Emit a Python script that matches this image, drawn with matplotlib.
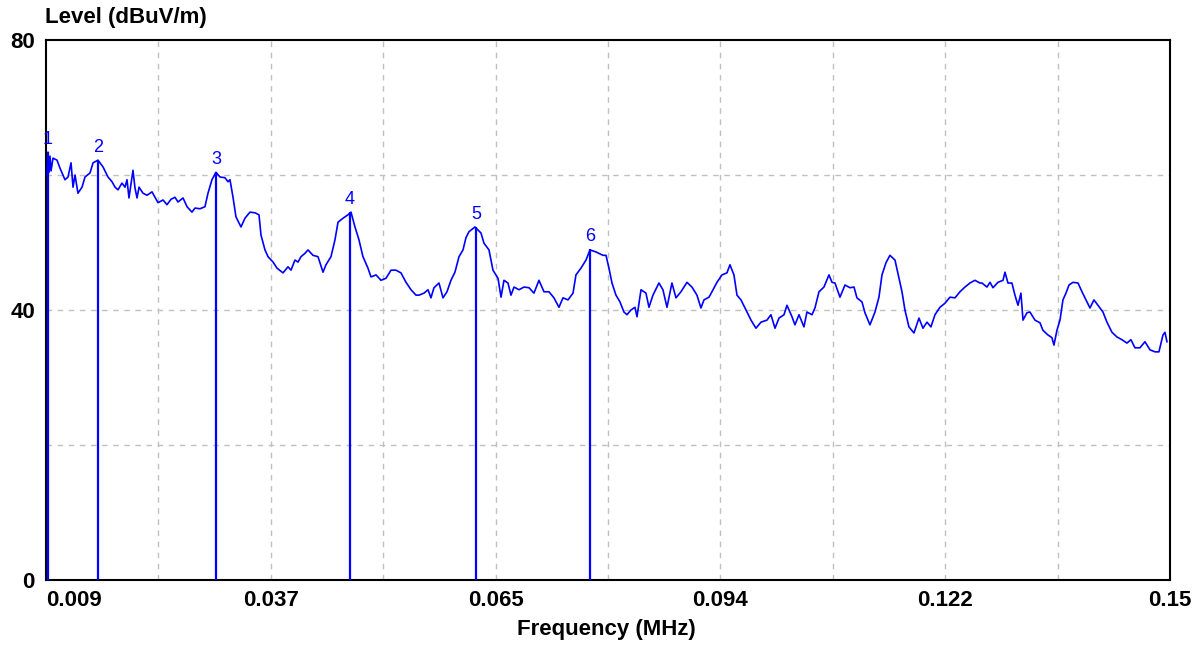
import numpy as np
import matplotlib
matplotlib.use("Agg")
import matplotlib.pyplot as plt

# spectrum trace, frequency in MHz, level in dBuV/m
freq = [0.00913, 0.00925, 0.00938, 0.00950, 0.00963, 0.00988, 0.01038, 0.01076, 0.01138, 0.01176,
        0.01214, 0.01239, 0.01264, 0.01301, 0.01352, 0.01389, 0.01452, 0.01490, 0.01552, 0.01615,
        0.01678, 0.01728, 0.01766, 0.01803, 0.01853, 0.01891, 0.01916, 0.01941, 0.01991, 0.02016,
        0.02042, 0.02067, 0.02117, 0.02167, 0.02230, 0.02267, 0.02305, 0.02368, 0.02418, 0.02468,
        0.02518, 0.02556, 0.02619, 0.02669, 0.02731, 0.02769, 0.02832, 0.02894, 0.02932, 0.02982,
        0.03032, 0.03083, 0.03145, 0.03183, 0.03208, 0.03246, 0.03283, 0.03346, 0.03396, 0.03459,
        0.03522, 0.03572, 0.03597, 0.03647, 0.03685, 0.03748, 0.03798, 0.03873, 0.03936, 0.03973,
        0.04023, 0.04061, 0.04099, 0.04149, 0.04187, 0.04249, 0.04312, 0.04375, 0.04412, 0.04475,
        0.04525, 0.04563, 0.04626, 0.04688, 0.04726, 0.04776, 0.04826, 0.04876, 0.04939, 0.04977,
        0.05040, 0.05102, 0.05165, 0.05228, 0.05290, 0.05353, 0.05416, 0.05479, 0.05541, 0.05579,
        0.05642, 0.05692, 0.05729, 0.05767, 0.05830, 0.05880, 0.05930, 0.05980, 0.06030, 0.06081,
        0.06131, 0.06168, 0.06206, 0.06281, 0.06357, 0.06394, 0.06457, 0.06507, 0.06570, 0.06608,
        0.06645, 0.06695, 0.06733, 0.06771, 0.06833, 0.06896, 0.06959, 0.07021, 0.07084, 0.07147,
        0.07210, 0.07272, 0.07335, 0.07385, 0.07448, 0.07511, 0.07548, 0.07611, 0.07674, 0.07724,
        0.07799, 0.07887, 0.07925, 0.07962, 0.08000, 0.08050, 0.08100, 0.08150, 0.08188, 0.08238,
        0.08288, 0.08314, 0.08364, 0.08426, 0.08464, 0.08514, 0.08589, 0.08639, 0.08690, 0.08752,
        0.08803, 0.08865, 0.08941, 0.09003, 0.09066, 0.09116, 0.09154, 0.09217, 0.09254, 0.09317,
        0.09380, 0.09442, 0.09480, 0.09530, 0.09568, 0.09618, 0.09681, 0.09744, 0.09806, 0.09869,
        0.09944, 0.09994, 0.10045, 0.10095, 0.10158, 0.10195, 0.10258, 0.10295, 0.10346, 0.10408,
        0.10446, 0.10509, 0.10546, 0.10597, 0.10659, 0.10722, 0.10760, 0.10797, 0.10860, 0.10923,
        0.10985, 0.11036, 0.11073, 0.11136, 0.11173, 0.11236, 0.11299, 0.11349, 0.11387, 0.11437,
        0.11487, 0.11550, 0.11600, 0.11638, 0.11675, 0.11725, 0.11788, 0.11851, 0.11901, 0.11951,
        0.12001, 0.12052, 0.12114, 0.12177, 0.12240, 0.12303, 0.12365, 0.12428, 0.12491, 0.12553,
        0.12616, 0.12641, 0.12704, 0.12742, 0.12779, 0.12842, 0.12905, 0.12930, 0.12967, 0.13017,
        0.13055, 0.13093, 0.13130, 0.13156, 0.13206, 0.13243, 0.13306, 0.13369, 0.13406, 0.13469,
        0.13519, 0.13544, 0.13582, 0.13620, 0.13657, 0.13695, 0.13733, 0.13783, 0.13846, 0.13896,
        0.13946, 0.13996, 0.14046, 0.14096, 0.14159, 0.14209, 0.14272, 0.14335, 0.14397, 0.14460,
        0.14510, 0.14560, 0.14623, 0.14686, 0.14749, 0.14811, 0.14861, 0.14912, 0.14937, 0.14962]
level = [60.0, 63.4, 60.4, 62.8, 60.6, 62.5, 62.2, 61.0, 59.3, 59.7,
         61.8, 58.2, 60.0, 57.3, 58.2, 59.7, 60.3, 61.8, 62.2, 61.2,
         59.7, 59.0, 58.2, 57.8, 58.8, 58.2, 59.3, 56.6, 60.7, 58.1,
         56.6, 58.2, 57.3, 57.0, 57.5, 56.7, 55.9, 56.3, 55.6, 56.4,
         56.7, 56.0, 56.6, 55.3, 54.5, 55.1, 55.0, 55.3, 57.3, 59.3,
         60.4, 59.7, 59.6, 59.0, 59.3, 56.7, 53.8, 52.3, 53.6, 54.5,
         54.4, 54.1, 51.1, 48.9, 47.9, 47.1, 46.2, 45.5, 46.4, 45.9,
         47.4, 47.1, 47.9, 48.4, 48.9, 48.1, 47.9, 45.6, 46.7, 47.9,
         50.4, 53.0, 53.6, 54.1, 54.5, 52.3, 50.4, 47.9, 46.2, 44.9,
         45.2, 44.4, 44.7, 45.9, 45.9, 45.5, 44.1, 43.0, 42.2, 42.2,
         42.5, 43.0, 41.8, 43.3, 44.0, 41.8, 42.7, 44.4, 45.6, 47.9,
         48.9, 50.7, 51.6, 52.3, 51.4, 49.9, 48.9, 45.9, 44.7, 41.9,
         44.4, 44.0, 42.2, 43.4, 43.0, 43.4, 43.3, 42.5, 44.4, 42.7,
         42.7, 41.8, 40.4, 41.8, 41.5, 42.5, 45.2, 46.2, 47.4, 48.9,
         48.6, 48.1, 48.1, 46.2, 44.0, 42.2, 41.2, 39.7, 39.3, 40.0,
         40.4, 39.0, 43.0, 42.5, 40.4, 42.2, 44.0, 43.0, 40.4, 44.0,
         41.8, 42.7, 44.1, 43.4, 42.2, 40.3, 41.5, 41.9, 42.7, 44.1,
         45.2, 45.5, 46.7, 45.2, 42.2, 41.5, 40.0, 38.5, 37.3, 38.2,
         38.5, 39.3, 37.3, 38.8, 39.3, 40.7, 39.0, 37.8, 39.3, 37.5,
         39.7, 39.3, 40.3, 42.7, 43.4, 45.2, 44.1, 44.0, 41.9, 43.7,
         43.3, 43.4, 41.8, 41.2, 39.6, 37.8, 39.7, 41.9, 45.2, 47.0,
         48.1, 47.4, 44.7, 42.7, 40.0, 37.5, 36.6, 38.8, 37.3, 38.2,
         37.5, 39.3, 40.4, 41.0, 41.9, 41.8, 42.7, 43.4, 44.0, 44.4,
         44.0, 44.0, 43.4, 44.1, 43.3, 44.1, 44.4, 45.6, 44.0, 44.0,
         42.2, 40.7, 42.5, 38.5, 39.6, 39.7, 38.5, 38.1, 37.0, 36.3,
         35.9, 34.8, 37.0, 38.5, 41.5, 42.5, 43.7, 44.1, 44.0, 42.7,
         41.5, 40.3, 41.5, 40.7, 39.7, 38.2, 36.7, 36.0, 35.6, 35.1,
         35.6, 34.4, 34.4, 35.3, 34.1, 33.8, 33.8, 36.3, 36.7, 35.3]

# peak markers
mark_freq = [0.00925, 0.01552, 0.03032, 0.04713, 0.06293, 0.07722]
mark_level = [63.4, 62.2, 60.4, 54.5, 52.3, 49.0]
mark_names = ["1", "2", "3", "4", "5", "6"]

xticks = np.linspace(0.009, 0.15, 6)
xtick_labels = ["0.009", "0.037", "0.065", "0.094", "0.122", "0.15"]
yticks = [0, 40, 80]

blue = "#0000ff"
font = "Liberation Sans"

fig = plt.figure(figsize=(11.96, 6.48), dpi=100)
ax = fig.add_axes([46/1196, 68/648, 1124/1196, 540/648])

ax.plot(freq, level, color=blue, lw=1.2, zorder=3)
ax.vlines(mark_freq, 0, mark_level, color=blue, lw=1.6, zorder=3)
for f, l, n in zip(mark_freq, mark_level, mark_names):
    ax.annotate(n, (f, l), xytext=(0, 3), textcoords="offset points",
                ha="center", va="bottom", color=blue, fontsize=13, family=font)

ax.set_xlim(0.009, 0.15)
ax.set_ylim(0, 80)

# grid at half steps
for gx in np.linspace(0.009, 0.15, 11)[1:-1]:
    ax.axvline(gx, color="#c0c0c0", lw=1, ls=(0, (4, 4)), zorder=1)
for gy in [20, 40, 60]:
    ax.axhline(gy, color="#c0c0c0", lw=1, ls=(0, (4, 4)), zorder=1)

ax.set_xticks(xticks)
ax.set_xticklabels(xtick_labels, fontsize=16, fontweight="bold", family=font)
ax.get_xticklabels()[0].set_ha("left")
ax.set_yticks(yticks)
ax.set_yticklabels([str(v) for v in yticks], fontsize=16, fontweight="bold", family=font)
ax.tick_params(axis="both", length=0)
ax.tick_params(axis="x", pad=7)
ax.tick_params(axis="y", pad=8)

for s in ax.spines.values():
    s.set_color("black")
    s.set_linewidth(1.5)

fig.text(45/1196, 1 - 18/648, "Level (dBuV/m)", ha="left", va="center",
         fontsize=16, fontweight="bold", family=font)
fig.text(606/1196, 1 - 630/648, "Frequency (MHz)", ha="center", va="center",
         fontsize=16, fontweight="bold", family=font)

fig.savefig("out.png", dpi=100)
